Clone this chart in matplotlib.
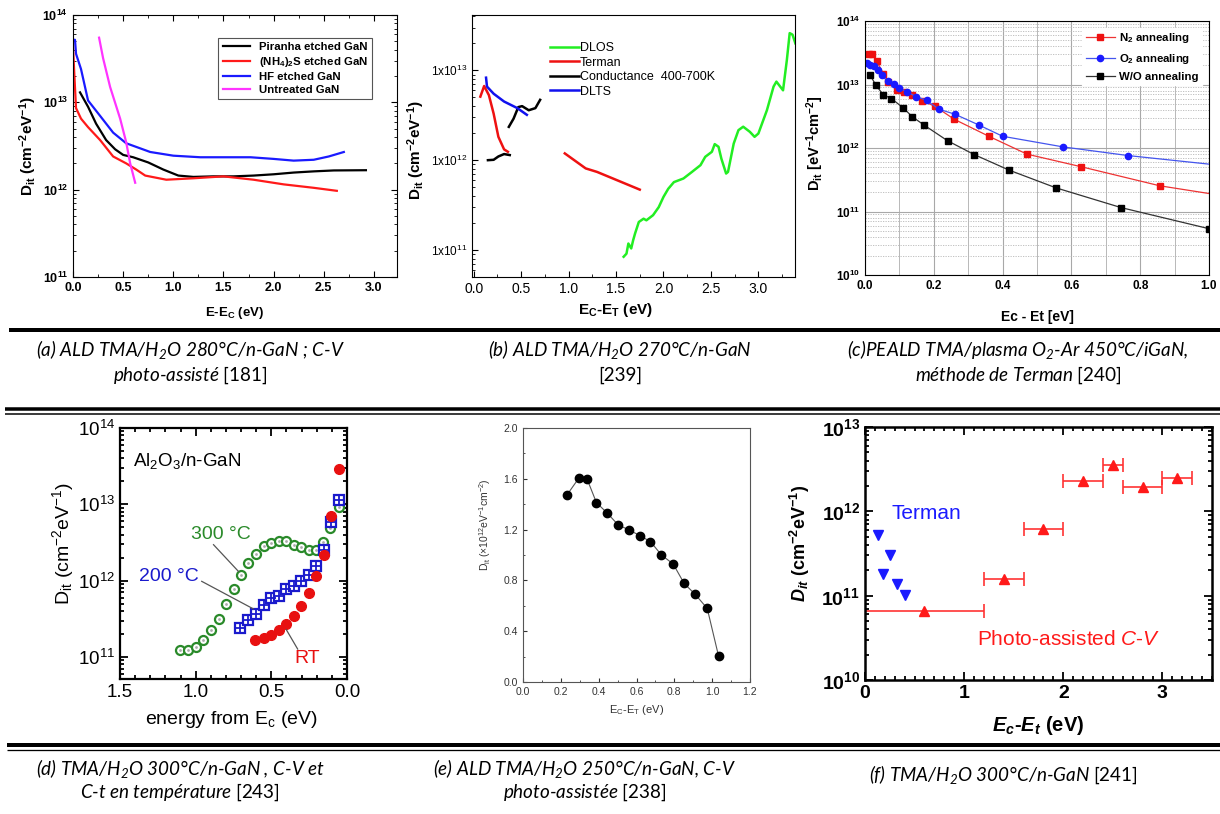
import matplotlib
matplotlib.use("Agg")
import matplotlib.pyplot as plt
import numpy as np
from matplotlib.lines import Line2D
from matplotlib.ticker import LogLocator, NullFormatter, MultipleLocator, FuncFormatter

plt.rcParams["font.family"] = "Liberation Sans"
plt.rcParams["mathtext.fontset"] = "custom"
plt.rcParams["mathtext.default"] = "regular"
plt.rcParams["mathtext.rm"] = "Lato"
plt.rcParams["mathtext.it"] = "Liberation Sans:italic"
plt.rcParams["mathtext.bfit"] = "Liberation Sans:italic:bold"

# ---------------- data ----------------
# (a) ALD 280C, photo-assisted C-V
a_pir_x = [0.07, 0.15, 0.23, 0.33, 0.42, 0.5, 0.6, 0.75, 0.9, 1.05, 1.2, 1.4, 1.6, 1.8, 2.0, 2.2, 2.4, 2.6, 2.92]
a_pir_y = [1.3e13, 8.9e12, 5.7e12, 3.7e12, 2.9e12, 2.5e12, 2.35e12, 2.05e12, 1.7e12, 1.45e12, 1.4e12,
           1.42e12, 1.42e12, 1.45e12, 1.5e12, 1.57e12, 1.62e12, 1.66e12, 1.67e12]
a_nh4_x = [0.0, 0.01, 0.03, 0.08, 0.15, 0.27, 0.4, 0.53, 0.63, 0.72, 0.93, 1.2, 1.5, 1.8, 2.1, 2.4, 2.63]
a_nh4_y = [4.5e13, 2.5e13, 8.6e12, 6.5e12, 5.2e12, 3.7e12, 2.4e12, 2.0e12, 1.7e12, 1.45e12, 1.3e12,
           1.35e12, 1.42e12, 1.3e12, 1.15e12, 1.05e12, 0.97e12]
a_hf_x = [0.0, 0.02, 0.03, 0.08, 0.15, 0.27, 0.4, 0.53, 0.77, 1.0, 1.27, 1.5, 1.77, 2.0, 2.2, 2.4, 2.55, 2.7]
a_hf_y = [5.2e13, 5.2e13, 3.6e13, 2.4e13, 1.05e13, 7e12, 4.5e12, 3.4e12, 2.7e12, 2.45e12, 2.35e12,
          2.35e12, 2.35e12, 2.25e12, 2.15e12, 2.2e12, 2.4e12, 2.7e12]
a_unt_x = [0.26, 0.3, 0.37, 0.47, 0.53, 0.57, 0.62]
a_unt_y = [5.5e13, 3.2e13, 1.5e13, 6.5e12, 3.5e12, 2.0e12, 1.2e12]

# (b) ALD 270C
b_dlos_x = [1.58, 1.61, 1.63, 1.66, 1.68, 1.70, 1.74, 1.79, 1.82, 1.89, 1.95, 2.0, 2.05, 2.11, 2.21, 2.30,
            2.39, 2.44, 2.51, 2.54, 2.58, 2.61, 2.66, 2.68, 2.74, 2.79, 2.84, 2.91, 2.96, 3.0, 3.09, 3.16,
            3.19, 3.26, 3.30, 3.33, 3.36, 3.39]
b_dlos_y = [8.4e10, 9.1e10, 1.18e11, 1.04e11, 1.28e11, 1.52e11, 2.05e11, 2.23e11, 2.14e11, 2.44e11, 3.0e11,
            3.9e11, 4.8e11, 5.7e11, 6.25e11, 7.4e11, 8.8e11, 1.09e12, 1.24e12, 1.51e12, 1.41e12, 1.04e12,
            7.1e11, 7.4e11, 1.53e12, 2.16e12, 2.36e12, 2.07e12, 1.82e12, 1.98e12, 3.6e12, 6.6e12,
            7.5e12, 6.0e12, 1.3e13, 2.6e13, 2.5e13, 2.0e13]
b_term1_x = [0.07, 0.11, 0.16, 0.21, 0.26, 0.32, 0.36]
b_term1_y = [5.1e12, 6.7e12, 5.3e12, 3.3e12, 1.82e12, 1.32e12, 1.24e12]
b_term2_x = [0.96, 1.18, 1.30, 1.75]
b_term2_y = [1.19e12, 8.1e11, 7.4e11, 4.7e11]
b_cond1_x = [0.15, 0.21, 0.26, 0.32, 0.38]
b_cond1_y = [1.0e12, 1.01e12, 1.1e12, 1.17e12, 1.14e12]
b_cond2_x = [0.37, 0.42, 0.47, 0.51, 0.58, 0.65, 0.70]
b_cond2_y = [2.35e12, 2.9e12, 3.9e12, 4.0e12, 3.6e12, 3.8e12, 4.7e12]
b_dlts_x = [0.13, 0.14, 0.21, 0.32, 0.46, 0.56]
b_dlts_y = [8.3e12, 6.6e12, 5.5e12, 4.5e12, 3.8e12, 3.2e12]

# (c) PEALD 450C, Terman
c_n2_x = [0.012, 0.019, 0.034, 0.053, 0.068, 0.092, 0.113, 0.136, 0.167, 0.203, 0.259, 0.36, 0.471, 0.629, 0.857, 1.0]
c_n2_y = [3.06e13, 2.99e13, 2.35e13, 1.49e13, 1.1e13, 8.3e12, 7.5e12, 6.8e12, 5.5e12, 4.55e12, 2.84e12,
          1.53e12, 8.0e11, 5.06e11, 2.54e11, 1.92e11]
c_o2_x = [0.005, 0.015, 0.026, 0.039, 0.048, 0.066, 0.084, 0.10, 0.123, 0.148, 0.179, 0.215, 0.261, 0.332,
          0.40, 0.576, 0.765, 1.0]
c_o2_y = [2.2e13, 2.01e13, 1.94e13, 1.72e13, 1.4e13, 1.12e13, 1.03e13, 8.9e12, 7.6e12, 6.46e12, 5.65e12,
          4.08e12, 3.41e12, 2.29e12, 1.53e12, 1.04e12, 7.6e11, 5.57e11]
c_wo_x = [0.015, 0.032, 0.053, 0.077, 0.111, 0.138, 0.172, 0.24, 0.317, 0.419, 0.555, 0.745, 1.0]
c_wo_y = [1.4e13, 9.7e12, 6.9e12, 6.0e12, 4.28e12, 3.09e12, 2.29e12, 1.3e12, 7.9e11, 4.48e11, 2.36e11,
          1.15e11, 5.36e10]

# (d) TMA/H2O 300C, C-V and C-t
d_300_x = [1.103, 1.052, 0.997, 0.949, 0.90, 0.849, 0.798, 0.75, 0.701, 0.651, 0.60, 0.551, 0.503, 0.452,
           0.401, 0.353, 0.304, 0.254, 0.203, 0.159, 0.11, 0.055]
d_300_y = [1.22e11, 1.25e11, 1.35e11, 1.65e11, 2.23e11, 3.15e11, 5.0e11, 7.8e11, 1.2e12, 1.7e12, 2.26e12,
           2.82e12, 3.11e12, 3.27e12, 3.27e12, 2.96e12, 2.74e12, 2.55e12, 2.5e12, 3.17e12, 4.9e12, 9.2e12]
d_200_x = [0.706, 0.651, 0.60, 0.551, 0.503, 0.452, 0.401, 0.353, 0.304, 0.254, 0.203, 0.154, 0.106, 0.055]
d_200_y = [2.4e11, 3.02e11, 3.7e11, 4.85e11, 5.93e11, 6.24e11, 7.8e11, 8.6e11, 9.8e11, 1.2e12, 1.57e12,
           2.5e12, 5.8e12, 1.15e13]
d_rt_x = [0.607, 0.551, 0.503, 0.452, 0.401, 0.353, 0.304, 0.254, 0.203, 0.154, 0.106, 0.055]
d_rt_y = [1.65e11, 1.77e11, 1.96e11, 2.28e11, 2.73e11, 3.48e11, 4.7e11, 6.9e11, 1.16e12, 2.19e12, 6.97e12, 2.9e13]

# (e) ALD 250C, photo-assisted C-V
e_x = [0.233, 0.295, 0.339, 0.388, 0.446, 0.503, 0.561, 0.618, 0.674, 0.732, 0.794, 0.852, 0.911, 0.974, 1.034]
e_y = [1.474, 1.605, 1.597, 1.413, 1.329, 1.237, 1.197, 1.153, 1.105, 1.0, 0.929, 0.776, 0.689, 0.579, 0.203]

# (f) TMA/H2O 300C
f_term_x = [0.134, 0.252, 0.178, 0.326, 0.403]
f_term_y = [5.2e11, 3.0e11, 1.8e11, 1.37e11, 1.03e11]
f_pcv_x = [0.6, 1.4, 1.8, 2.2, 2.5, 2.8, 3.15]
f_pcv_err = [0.6, 0.2, 0.2, 0.2, 0.1, 0.2, 0.15]
f_pcv_y = [6.56e10, 1.57e11, 6.25e11, 2.3e12, 3.5e12, 1.95e12, 2.49e12]

captions_top = [
    ("(a) ALD TMA/H$_2$O 280°C/n-GaN ; C-V", "photo-assisté $\\mathrm{[181]}$", 190),
    ("(b) ALD TMA/H$_2$O 270°C/n-GaN", "[239]", 620),
    ("(c)PEALD TMA/plasma O$_2$-Ar 450°C/iGaN,", "méthode de Terman $\\mathrm{[240]}$", 1018),
]
captions_bottom = [
    ("(d) TMA/H$_2$O 300°C/n-GaN , C-V et", "C-t en température $\\mathrm{[243]}$", 180),
    ("(e) ALD TMA/H$_2$O 250°C/n-GaN, C-V", "photo-assistée $\\mathrm{[238]}$", 585),
]

# ---------------- figure ----------------
W, H = 1220, 814
fig = plt.figure(figsize=(W / 100, H / 100), dpi=100)


def box(l, t, r, b):
    return fig.add_axes([l / W, 1 - b / H, (r - l) / W, (b - t) / H])


def log_fmt(v, p):
    return "10$^{%d}$" % int(round(np.log10(v)))


def log_minor(ax):
    ax.yaxis.set_minor_locator(LogLocator(base=10, subs=np.arange(2, 10)))
    ax.yaxis.set_minor_formatter(NullFormatter())


def set_weight(ax, w):
    for lab in ax.get_xticklabels() + ax.get_yticklabels():
        lab.set_fontweight(w)


def hline(y, lw_px, x0=7, x1=1220):
    fig.add_artist(Line2D([x0 / W, x1 / W], [1 - y / H, 1 - y / H], transform=fig.transFigure,
                          color="black", lw=lw_px * 0.72, solid_capstyle="butt"))


# ---- (a)
ax = box(73, 15, 397, 277)
ax.plot(a_pir_x, a_pir_y, color="black", lw=1.6, label="Piranha etched GaN")
ax.plot(a_nh4_x, a_nh4_y, color="#ff1a1a", lw=1.6, label="(NH$_4$)$_2$S etched GaN")
ax.plot(a_hf_x, a_hf_y, color="#1a1aff", lw=1.6, label="HF etched GaN")
ax.plot(a_unt_x, a_unt_y, color="#ff33ff", lw=1.6, label="Untreated GaN")
ax.set_yscale("log")
ax.set_xlim(0, 3.23)
ax.set_ylim(1e11, 1e14)
ax.set_xticks([0, 0.5, 1.0, 1.5, 2.0, 2.5, 3.0])
ax.xaxis.set_minor_locator(MultipleLocator(0.25))
ax.set_yticks([1e11, 1e12, 1e13, 1e14])
ax.yaxis.set_major_formatter(FuncFormatter(log_fmt))
ax.xaxis.set_major_formatter(FuncFormatter(lambda v, p: "%.1f" % v))
log_minor(ax)
ax.tick_params(which="both", direction="in", top=True, right=True, labelsize=9)
ax.tick_params(which="major", length=4)
ax.tick_params(which="minor", length=2)
set_weight(ax, "bold")
ax.set_xlabel("E-E$_C$ (eV)", fontsize=9.5, fontweight="bold", va="center")
ax.xaxis.set_label_coords(0.5, -0.137)
ax.set_ylabel("D$_{it}$ (cm$^{-2}$eV$^{-1}$)", fontsize=11, fontweight="bold", va="center")
ax.yaxis.set_label_coords(-0.139, 0.5)
leg = ax.legend(loc="upper left", bbox_to_anchor=(0.43, 0.935), prop={"weight": "bold", "size": 8.2},
                handlelength=2.4, labelspacing=0.25, borderpad=0.4, fancybox=False, edgecolor="#555555",
                framealpha=1)
leg.get_frame().set_linewidth(0.8)

# ---- (b)
ax = box(472, 15, 795, 277)
ax.plot(b_dlos_x, b_dlos_y, color="#22ee22", lw=1.8, label="DLOS")
ax.plot(b_term1_x, b_term1_y, color="#ee1111", lw=1.8, label="Terman")
ax.plot(b_term2_x, b_term2_y, color="#ee1111", lw=1.8)
ax.plot(b_cond1_x, b_cond1_y, color="black", lw=1.8, label="Conductance  400-700K")
ax.plot(b_cond2_x, b_cond2_y, color="black", lw=1.8)
ax.plot(b_dlts_x, b_dlts_y, color="#1111ee", lw=1.8, label="DLTS")
ax.set_yscale("log")
ax.set_xlim(-0.018, 3.386)
ax.set_ylim(5.0e10, 4.14e13)
ax.set_xticks([0, 0.5, 1.0, 1.5, 2.0, 2.5, 3.0])
ax.xaxis.set_major_formatter(FuncFormatter(lambda v, p: "%.1f" % v))
ax.xaxis.set_minor_locator(MultipleLocator(0.25))
ax.set_yticks([1e11, 1e12, 1e13])
ax.yaxis.set_major_formatter(FuncFormatter(lambda v, p: "1x10$^{%d}$" % int(round(np.log10(v)))))
log_minor(ax)
ax.tick_params(which="both", direction="in", labelsize=10)
ax.tick_params(axis="y", labelsize=8.5)
ax.tick_params(which="major", length=4)
ax.tick_params(which="minor", length=2)
ax.set_xlabel("E$_C$-E$_T$ (eV)", fontsize=11, fontweight="bold", va="center")
ax.xaxis.set_label_coords(0.443, -0.126)
ax.set_ylabel("D$_{it}$ (cm$^{-2}$eV$^{-1}$)", fontsize=11, fontweight="bold", va="center")
ax.yaxis.set_label_coords(-0.173, 0.485)
ax.legend(loc="upper left", bbox_to_anchor=(0.215, 0.93), frameon=False, prop={"size": 9},
          handlelength=2.3, labelspacing=0.2, handletextpad=0.1, borderpad=0.2)

# ---- (c)
ax = box(865, 21, 1209, 275)
ax.plot(c_n2_x, c_n2_y, color="#ee3333", lw=0.9, marker="s", ms=4, mfc="#ee1111", mec="#ee1111",
        markevery=list(range(len(c_n2_x) - 1)), label="N$_2$ annealing")
ax.plot(c_o2_x, c_o2_y, color="#4455ee", lw=0.9, marker="o", ms=4.5, mfc="#1a1aff", mec="#1a1aff",
        markevery=list(range(len(c_o2_x) - 1)), label="O$_2$ annealing")
ax.plot(c_wo_x, c_wo_y, color="#333333", lw=0.9, marker="s", ms=4, mfc="black", mec="black",
        label="W/O annealing")
ax.set_yscale("log")
ax.set_xlim(0, 1.0)
ax.set_ylim(1e10, 1e14)
ax.set_xticks([0, 0.2, 0.4, 0.6, 0.8, 1.0])
ax.xaxis.set_major_formatter(FuncFormatter(lambda v, p: "%.1f" % v))
ax.xaxis.set_minor_locator(MultipleLocator(0.1))
ax.set_yticks([1e10, 1e11, 1e12, 1e13, 1e14])
ax.yaxis.set_major_formatter(FuncFormatter(log_fmt))
log_minor(ax)
ax.grid(which="major", color="#a8a8a8", lw=0.8)
ax.grid(which="minor", axis="x", color="#b8b8b8", lw=0.7)
ax.grid(which="minor", axis="y", color="#b8b8b8", lw=0.6, ls=(0, (1.5, 1.5)))
ax.set_axisbelow(True)
ax.tick_params(which="both", direction="in", labelsize=8.5, length=0)
set_weight(ax, "bold")
ax.set_xlabel("Ec - Et [eV]", fontsize=10, fontweight="bold", va="center")
ax.xaxis.set_label_coords(0.5, -0.165)
ax.set_ylabel("D$_{it}$ [eV$^{-1}$cm$^{-2}$]", fontsize=10.5, fontweight="bold", va="center")
ax.yaxis.set_label_coords(-0.145, 0.52)
leg = ax.legend(loc="upper right", bbox_to_anchor=(0.995, 0.995), prop={"weight": "bold", "size": 8.2},
                handlelength=2.6, labelspacing=0.55, borderpad=0.3, handletextpad=0.3, fancybox=False,
                edgecolor="white", framealpha=1)

# ---- (d)
ax = box(120, 428, 347, 679)
green, blue, red = "#2a8a2a", "#1a1acc", "#e81010"
ax.plot(d_300_x, d_300_y, ls="none", marker="o", ms=6.5, mfc="white", mec=green, mew=1.6)
ax.plot(d_300_x, d_300_y, ls="none", marker="o", ms=2, mfc="#aaaaaa", mec="none")
ax.plot(d_200_x, d_200_y, ls="none", marker="s", ms=7, mfc="white", mec=blue, mew=1.6)
ax.plot(d_200_x, d_200_y, ls="none", marker="+", ms=7, mec=blue, mew=1.3)
ax.plot(d_rt_x, d_rt_y, ls="none", marker="o", ms=7, mfc=red, mec=red)
ax.plot([0.882, 0.717], [2.96e12, 1.32e12], color="#555555", lw=0.9)
ax.plot([0.96, 0.618], [9.8e11, 4.26e11], color="#555555", lw=0.9)
ax.plot([0.401, 0.326], [2.28e11, 1.27e11], color="#555555", lw=0.9)
ax.text(0.834, 4.0e12, "300 °C", color=green, fontsize=14, ha="center", va="center")
ax.text(1.18, 1.14e12, "200 °C", color=blue, fontsize=14, ha="center", va="center")
ax.text(0.265, 9.7e10, "RT", color=red, fontsize=14, ha="center", va="center")
ax.text(0.059, 0.867, "Al$_2$O$_3$/n-GaN", transform=ax.transAxes, fontsize=13.5, ha="left", va="center")
ax.set_yscale("log")
ax.set_xlim(1.5, 0.0)
ax.set_ylim(5.15e10, 1e14)
ax.set_xticks([1.5, 1.0, 0.5, 0.0])
ax.xaxis.set_major_formatter(FuncFormatter(lambda v, p: "%.1f" % v))
ax.xaxis.set_minor_locator(MultipleLocator(0.1))
ax.set_yticks([1e11, 1e12, 1e13, 1e14])
ax.yaxis.set_major_formatter(FuncFormatter(log_fmt))
log_minor(ax)
ax.tick_params(which="both", direction="in", top=True, right=True, labelsize=13.5, width=1.3)
ax.tick_params(which="major", length=6)
ax.tick_params(which="minor", length=3)
for s in ax.spines.values():
    s.set_linewidth(1.6)
ax.set_xlabel("energy from E$_c$ (eV)", fontsize=14, va="center")
ax.xaxis.set_label_coords(0.49, -0.163)
ax.set_ylabel("D$_{it}$ (cm$^{-2}$eV$^{-1}$)", fontsize=14, va="center")
ax.yaxis.set_label_coords(-0.251, 0.54)

# ---- (e)
ax = box(523, 428, 750, 682)
ax.plot(e_x, e_y, color="#555555", lw=0.8, marker="o", ms=6, mfc="black", mec="black")
ax.set_xlim(0, 1.2)
ax.set_ylim(0, 2.0)
ax.xaxis.set_major_locator(MultipleLocator(0.2))
ax.xaxis.set_minor_locator(MultipleLocator(0.1))
ax.yaxis.set_major_locator(MultipleLocator(0.4))
ax.yaxis.set_minor_locator(MultipleLocator(0.2))
ax.xaxis.set_major_formatter(FuncFormatter(lambda v, p: "%.1f" % v))
ax.yaxis.set_major_formatter(FuncFormatter(lambda v, p: "%.1f" % v))
ax.tick_params(which="both", direction="in", labelsize=7.5, colors="#333333", labelcolor="#333333")
ax.tick_params(which="major", length=3)
ax.tick_params(which="minor", length=1.5)
for s in ax.spines.values():
    s.set_color("#555555")
    s.set_linewidth(0.8)
ax.set_xlabel("E$_C$-E$_T$ (eV)", fontsize=8, color="#333333", va="center")
ax.xaxis.set_label_coords(0.5, -0.11)
ax.set_ylabel("D$_{it}$ (×10$^{12}$eV$^{-1}$cm$^{-2}$)", fontsize=7.5, color="#333333", va="center")
ax.yaxis.set_label_coords(-0.167, 0.62)

# ---- (f)
ax = box(865, 427, 1212, 680)
ax.plot(f_term_x, f_term_y, ls="none", marker="v", ms=7.5, color="#1a1aff")
ax.errorbar(f_pcv_x, f_pcv_y, xerr=f_pcv_err, fmt="^", ms=7, color="#ff1a1a", ecolor="#ff3333",
            elinewidth=1.2, capsize=5, capthick=1.2)
ax.text(0.077, 0.658, "Terman", transform=ax.transAxes, color="#1a1aff", fontsize=15, ha="left", va="center")
ax.text(0.322, 0.16, "Photo-assisted $\\mathit{C}$-$\\mathit{V}$", transform=ax.transAxes, color="#ff1a1a",
        fontsize=15, ha="left", va="center")
ax.set_yscale("log")
ax.set_xlim(0, 3.5)
ax.set_ylim(1e10, 1e13)
ax.set_xticks([0, 1, 2, 3])
ax.xaxis.set_minor_locator(MultipleLocator(0.1))
ax.set_yticks([1e10, 1e11, 1e12, 1e13])
ax.yaxis.set_major_formatter(FuncFormatter(log_fmt))
log_minor(ax)
ax.tick_params(which="both", direction="in", top=True, right=True, labelsize=14, width=1.3)
ax.tick_params(which="major", length=6)
ax.tick_params(which="minor", length=3)
set_weight(ax, "bold")
for s in ax.spines.values():
    s.set_linewidth(1.8)
ax.set_xlabel("$\\mathbfit{E_c}$-$\\mathbfit{E_t}$ (eV)", fontsize=14.5, fontweight="bold", va="center")
ax.xaxis.set_label_coords(0.5, -0.178)
ax.set_ylabel("$\\mathbfit{D_{it}}$ (cm$^{-2}$eV$^{-1}$)", fontsize=13, fontweight="bold", va="center")
ax.yaxis.set_label_coords(-0.187, 0.54)

# ---------------- table rules and captions ----------------
hline(330, 4, x0=9)
hline(408.5, 3.5, x0=5)
hline(413.5, 1.5, x0=5)
hline(745, 4)
hline(749.5, 1.3)

cap_font = dict(family=["Lato", "DejaVu Sans"], style="italic", fontsize=13.6, ha="center", va="center")
for line1, line2, cx in captions_top:
    fig.text(cx / W, 1 - 350 / H, line1, **cap_font)
    style2 = "normal" if line2.startswith("[") else "italic"
    fig.text(cx / W, 1 - 375 / H, line2, **{**cap_font, "style": style2})
for line1, line2, cx in captions_bottom:
    fig.text(cx / W, 1 - 768 / H, line1, **cap_font)
    fig.text(cx / W, 1 - 792 / H, line2, **cap_font)
fig.text(1003 / W, 1 - 775 / H, "(f) TMA/H$_2$O 300°C/n-GaN $\\mathrm{[241]}$", **cap_font)

fig.savefig("out.png", dpi=100)
